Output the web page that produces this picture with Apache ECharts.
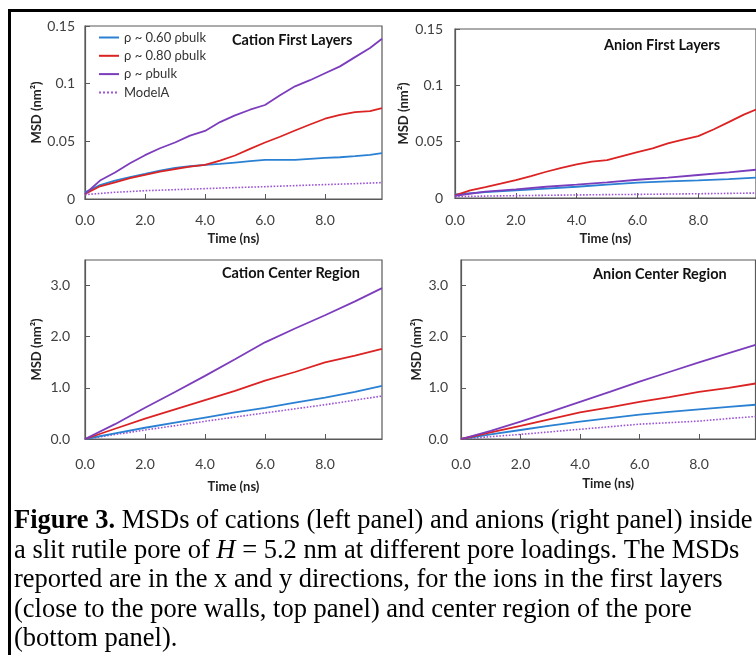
<!DOCTYPE html>
<html>
<head>
<meta charset="utf-8">
<script src="https://cdn.jsdelivr.net/npm/echarts@6/dist/echarts.min.js"></script>
<style>
  html, body { margin: 0; padding: 0; background: #fff; }
  #main { width: 756px; height: 655px; }
</style>
</head>
<body>
<div id="main"></div>
<script>
// time points (ns)
var tHalf = [0, 0.5, 1, 1.5, 2, 2.5, 3, 3.5, 4, 4.5, 5, 5.5, 6, 6.5, 7, 7.5, 8, 8.5, 9, 9.5, 9.9];
var tOne = [0, 1, 2, 3, 4, 5, 6, 7, 8, 9, 9.9];

var names = ['ρ ~ 0.60 ρbulk', 'ρ ~ 0.80 ρbulk', 'ρ ~ ρbulk', 'ModelA'];
var colors = ['#2a80d2', '#dc2323', '#7c3dbd', '#9d55d8'];

// Cation first layers (nm^2)
var catFirst060 = [0.0058, 0.012, 0.016, 0.019, 0.0217, 0.0246, 0.027, 0.0284, 0.0296, 0.0304, 0.0316, 0.0328, 0.0339, 0.0339, 0.0339, 0.0348, 0.0357, 0.0362, 0.0371, 0.0383, 0.0397];
var catFirst080 = [0.0043, 0.011, 0.0145, 0.018, 0.021, 0.0238, 0.026, 0.028, 0.0296, 0.0333, 0.0377, 0.0435, 0.049, 0.054, 0.0594, 0.0646, 0.0696, 0.073, 0.0754, 0.0762, 0.0788];
var catFirstBulk = [0.0043, 0.016, 0.023, 0.031, 0.038, 0.044, 0.049, 0.055, 0.059, 0.0667, 0.0725, 0.0774, 0.0815, 0.090, 0.0977, 0.103, 0.109, 0.115, 0.123, 0.131, 0.139];
var catFirstModel = [0.0038, 0.0058, 0.0072, 0.0081, 0.009, 0.0099, 0.0107, 0.0116, 0.0125, 0.0133, 0.0142];

// Anion first layers
var anFirst060 = [0.0032, 0.0053, 0.0068, 0.0083, 0.010, 0.0118, 0.0136, 0.0147, 0.0156, 0.0168, 0.018];
var anFirst080 = [0.0024, 0.0068, 0.0097, 0.0127, 0.0159, 0.0195, 0.0233, 0.0268, 0.0298, 0.0322, 0.0336, 0.0372, 0.0407, 0.044, 0.0484, 0.0519, 0.0549, 0.0608, 0.0673, 0.074, 0.0785];
var anFirstBulk = [0.002, 0.0056, 0.0077, 0.010, 0.0118, 0.0139, 0.0162, 0.018, 0.0204, 0.0227, 0.0251];
var anFirstModel = [0.0012, 0.0017, 0.0021, 0.0024, 0.0027, 0.003, 0.0032, 0.0035, 0.0038, 0.0041, 0.0044];

// Cation center region
var catCenter060 = [0, 0.11, 0.22, 0.32, 0.42, 0.52, 0.61, 0.71, 0.81, 0.92, 1.04];
var catCenter080 = [0, 0.2, 0.40, 0.58, 0.76, 0.94, 1.14, 1.31, 1.50, 1.63, 1.76];
var catCenterBulk = [0, 0.29, 0.61, 0.92, 1.235, 1.56, 1.89, 2.16, 2.42, 2.69, 2.95];
var catCenterModel = [0, 0.087, 0.176, 0.26, 0.346, 0.43, 0.51, 0.59, 0.67, 0.76, 0.84];

// Anion center region
var anCenter060 = [0, 0.09, 0.176, 0.26, 0.34, 0.41, 0.477, 0.53, 0.58, 0.63, 0.67];
var anCenter080 = [0, 0.13, 0.255, 0.39, 0.52, 0.62, 0.725, 0.82, 0.92, 1.0, 1.085];
var anCenterBulk = [0, 0.16, 0.34, 0.53, 0.725, 0.92, 1.12, 1.31, 1.50, 1.68, 1.84];
var anCenterModel = [0, 0.045, 0.09, 0.14, 0.19, 0.24, 0.29, 0.32, 0.35, 0.40, 0.44];

var panelTitles = ['Cation First Layers', 'Anion First Layers', 'Cation Center Region', 'Anion Center Region'];
var firstTicks = [0, 0.05, 0.1, 0.15];

var captionLines = [
  '{b|Figure 3.} MSDs of cations (left panel) and anions (right panel) inside',
  'a slit rutile pore of {i|H} = 5.2 nm at different pore loadings. The MSDs',
  'reported are in the x and y directions, for the ions in the first layers',
  '(close to the pore walls, top panel) and center region of the pore',
  '(bottom panel).'
];

function pts(ts, vs) {
  return ts.map(function (t, i) { return [t, vs[i]]; });
}

var FONT = 'Lato';
var axisColor = '#595959';
var labelColor = '#404040';

var grids = [
  { left: 85, top: 26, width: 297, height: 173 },
  { left: 455, top: 29, width: 301, height: 169 },
  { left: 85, top: 260, width: 297, height: 179 },
  { left: 461, top: 260, width: 294.5, height: 179 }
];
var xLabelMargin = [14, 15, 18, 18];
var xNameGap = [33, 34, 41, 38];
var yLabelMargin = [10, 12, 15, 13];
var yNameGap = [42, 45, 42, 38];
var titlePos = [[232, 33], [604, 38], [222, 266], [593, 267]];

var xAxes = [], yAxes = [], titles = [];
grids.forEach(function (g, i) {
  g.show = true;
  g.borderColor = axisColor;
  g.borderWidth = 1.2;
  xAxes.push({
    gridIndex: i, type: 'value', min: 0, max: 9.9, interval: 2,
    name: 'Time (ns)', nameLocation: 'middle', nameGap: xNameGap[i],
    nameTextStyle: { fontFamily: FONT, fontWeight: 'bold', fontSize: 13, color: '#222' },
    axisLine: { lineStyle: { color: axisColor, width: 1.2 } },
    axisTick: { inside: true, length: 5, lineStyle: { color: axisColor } },
    axisLabel: {
      margin: xLabelMargin[i], showMaxLabel: false, fontFamily: FONT, fontSize: 14, color: labelColor,
      formatter: function (v) { return v.toFixed(1); }
    },
    splitLine: { show: false }
  });
  var first = i < 2;
  yAxes.push({
    gridIndex: i, type: 'value', min: 0,
    max: first ? 0.15 : 3.5, interval: first ? 0.05 : 1,
    name: 'MSD (nm²)', nameLocation: 'middle', nameGap: yNameGap[i],
    nameTextStyle: { fontFamily: FONT, fontWeight: 'bold', fontSize: 13, color: '#222' },
    axisLine: { lineStyle: { color: axisColor, width: 1.2 } },
    axisTick: { inside: true, length: 5, lineStyle: { color: axisColor } },
    axisLabel: {
      margin: yLabelMargin[i], showMaxLabel: first, fontFamily: FONT, fontSize: 14, color: labelColor,
      formatter: function (v) {
        if (first) {
          var k = firstTicks.map(function (t) { return Math.abs(t - v); });
          return String(firstTicks[k.indexOf(Math.min.apply(null, k))]);
        }
        return v.toFixed(1);
      }
    },
    splitLine: { show: false }
  });
  titles.push({
    text: panelTitles[i], left: titlePos[i][0], top: titlePos[i][1], padding: 0,
    textStyle: { fontFamily: FONT, fontWeight: 'bold', fontSize: 14.5, color: '#111' }
  });
});

var panels = [
  [[tHalf, catFirst060], [tHalf, catFirst080], [tHalf, catFirstBulk], [tOne, catFirstModel]],
  [[tOne, anFirst060], [tHalf, anFirst080], [tOne, anFirstBulk], [tOne, anFirstModel]],
  [[tOne, catCenter060], [tOne, catCenter080], [tOne, catCenterBulk], [tOne, catCenterModel]],
  [[tOne, anCenter060], [tOne, anCenter080], [tOne, anCenterBulk], [tOne, anCenterModel]]
];

var series = [];
panels.forEach(function (p, gi) {
  p.forEach(function (s, si) {
    series.push({
      name: names[si], type: 'line', xAxisIndex: gi, yAxisIndex: gi,
      data: pts(s[0], s[1]), symbol: 'none', showSymbol: false,
      color: colors[si],
      lineStyle: { color: colors[si], width: si === 3 ? 1.6 : 1.8, type: si === 3 ? 'dotted' : 'solid' },
      z: si === 3 ? 1 : 2 + si
    });
  });
});

var captionGraphics = captionLines.map(function (line, i) {
  return {
    type: 'text', left: 14, top: 508 + i * 29.5,
    style: {
      text: line, fill: '#000',
      fontFamily: 'Liberation Serif', fontSize: 26.5,
      rich: {
        b: { fontFamily: 'Liberation Serif', fontSize: 26.5, fontWeight: 'bold', fill: '#000' },
        i: { fontFamily: 'Liberation Serif', fontSize: 26.5, fontStyle: 'italic', fill: '#000' }
      }
    }
  };
});

var chart = echarts.init(document.getElementById('main'), null, { renderer: 'canvas' });
chart.setOption({
  backgroundColor: '#fff',
  animation: false,
  title: titles,
  legend: {
    data: names, orient: 'vertical', left: 98, top: 31,
    itemWidth: 20, itemHeight: 14, itemGap: 5.3, padding: 0,
    itemStyle: { opacity: 0 },
    textStyle: { fontFamily: FONT, fontSize: 13, color: '#333' }
  },
  grid: grids,
  xAxis: xAxes,
  yAxis: yAxes,
  series: series,
  graphic: [
    {
      type: 'polyline', silent: true,
      shape: { points: [[9.5, 660], [9.5, 10.5], [760, 10.5]] },
      style: { stroke: '#000', lineWidth: 3, fill: null }
    }
  ].concat(captionGraphics)
});
</script>
</body>
</html>
